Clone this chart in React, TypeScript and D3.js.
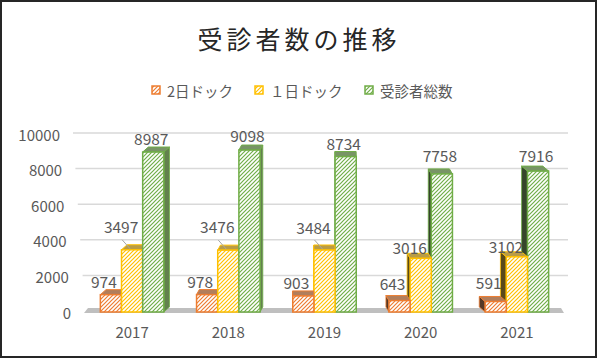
import React from "react";
import * as d3 from "d3";

const years = ["2017", "2018", "2019", "2020", "2021"];
const dock2 = [974, 978, 903, 643, 591];
const dock1 = [3497, 3476, 3484, 3016, 3102];
const total = [8987, 9098, 8734, 7758, 7916];
const seriesNames = ["2日ドック", "１日ドック", "受診者総数"];
const yTicks = [0, 2000, 4000, 6000, 8000, 10000];

// layout only
const colors = ["#ED7D31", "#FFC000", "#70AD47"];
const labelLift = [
  [14, 14, 14, 18, 19],
  [24, 24, 23, 11, 11],
  [14, 15, 14, 19, 16],
];
const labelShift = [-7, -11, -2];
const legendX = [152, 255, 365];
const FONT = "'Noto Sans CJK JP', 'Noto Sans', sans-serif";

export default function App() {
  const W = 600;
  const H = 359;
  const series = [dock2, dock1, total];

  const y = d3.scaleLinear().domain([0, 10000]).range([312, 134]);
  const x0 = d3
    .scaleBand<string>()
    .domain(years)
    .range([84, 565])
    .paddingInner(0.34)
    .paddingOuter(0.17);
  const x1 = d3
    .scaleBand<number>()
    .domain([0, 1, 2])
    .range([0, x0.bandwidth()]);

  const depthY = 5;
  const gray = "#7F7F7F";

  const bars: JSX.Element[] = [];
  const labels: JSX.Element[] = [];

  years.forEach((yr, i) => {
    const gx = x0(yr)!;
    const cx = gx + x0.bandwidth() / 2;
    const dx = (320 - cx) * 0.03;
    const order = dx > 0 ? [0, 1, 2] : [2, 1, 0];
    order.forEach((s) => {
      const v = series[s][i];
      const bx = gx + x1(s)!;
      const bw = x1.bandwidth();
      const top = y(v);
      const base = y(0);
      const c = colors[s];
      const sideCol =
        dx > 0
          ? d3.interpolateRgb(c, "#555")(0.5)
          : d3.interpolateRgb(c, "#222")(0.75);
      const topCol = d3.interpolateRgb(c, gray)(0.55);
      const sx = dx > 0 ? bx + bw : bx;
      bars.push(
        <g key={`b${i}-${s}`}>
          <polygon
            points={`${sx},${top} ${sx + dx},${top - depthY} ${sx + dx},${base - depthY} ${sx},${base}`}
            fill={sideCol}
            stroke={c}
            strokeWidth={0.8}
          />
          <polygon
            points={`${bx},${top} ${bx + bw},${top} ${bx + bw + dx},${top - depthY} ${bx + dx},${top - depthY}`}
            fill={topCol}
            stroke={c}
            strokeWidth={1}
          />
          <rect
            x={bx}
            y={top}
            width={bw}
            height={base - top}
            fill={`url(#hatch${s})`}
            stroke={c}
            strokeWidth={1.5}
          />
        </g>
      );
      const lx = bx + bw / 2 + labelShift[s];
      const ly = top - labelLift[s][i];
      labels.push(
        <text
          key={`l${i}-${s}`}
          x={lx}
          y={ly}
          textAnchor="middle"
          dominantBaseline="central"
          fontSize={15.5}
          fill="#595959"
        >
          {v}
        </text>
      );
      if (s === 1 && labelLift[s][i] > 18) {
        labels.push(
          <line
            key={`ll${i}`}
            x1={bx + bw / 2 - 10}
            y1={top - 10}
            x2={bx + bw / 2 - 2}
            y2={top - 1}
            stroke="#A6A6A6"
            strokeWidth={1}
          />
        );
      }
    });
  });

  return (
    <svg
      width={W}
      height={H}
      style={{ position: "absolute", left: 0, top: 0, fontFamily: FONT }}
    >
      <defs>
        {colors.map((c, s) => (
          <pattern
            key={s}
            id={`hatch${s}`}
            patternUnits="userSpaceOnUse"
            width={4}
            height={4}
          >
            <rect width={4} height={4} fill="#fff" />
            <path
              d="M-1,1 l2,-2 M0,4 l4,-4 M3,5 l2,-2"
              stroke={c}
              strokeWidth={1.2}
            />
          </pattern>
        ))}
      </defs>
      <rect x={0} y={0} width={W} height={H} fill="#fff" />
      <rect
        x={1}
        y={1}
        width={595}
        height={356}
        fill="none"
        stroke="#262626"
        strokeWidth={2}
      />

      <text
        x={299}
        y={38}
        textAnchor="middle"
        dominantBaseline="central"
        fontSize={25}
        letterSpacing={4}
        fill="#262626"
      >
        受診者数の推移
      </text>

      {seriesNames.map((n, s) => (
        <g key={n}>
          <rect
            x={legendX[s]}
            y={86}
            width={8}
            height={8}
            fill={`url(#hatch${s})`}
            stroke={colors[s]}
            strokeWidth={1.5}
          />
          <text
            x={legendX[s] + 15}
            y={90}
            dominantBaseline="central"
            fontSize={14.5}
            fill="#595959"
          >
            {n}
          </text>
        </g>
      ))}

      {yTicks.map((t) => (
        <g key={t}>
          {t > 0 && (
            <line
              x1={73 + 12 * (1 - t / 10000)}
              x2={568}
              y1={y(t) - 1}
              y2={y(t) - 1}
              stroke="#D9D9D9"
              strokeWidth={1.5}
            />
          )}
          <text
            x={71 - 11 * (t / 10000)}
            y={y(t)}
            textAnchor="end"
            dominantBaseline="central"
            fontSize={15}
            fill="#595959"
          >
            {t}
          </text>
        </g>
      ))}

      <polygon
        points={`84,${y(0) + 1} 564,${y(0) + 1} 561,${y(0) - 4} 88,${y(0) - 4}`}
        fill="#BFBFBF"
      />

      {bars}
      {labels}

      {years.map((yr) => (
        <text
          key={yr}
          x={x0(yr)! + x0.bandwidth() / 2}
          y={331}
          textAnchor="middle"
          dominantBaseline="central"
          fontSize={15}
          fill="#595959"
        >
          {yr}
        </text>
      ))}
    </svg>
  );
}
